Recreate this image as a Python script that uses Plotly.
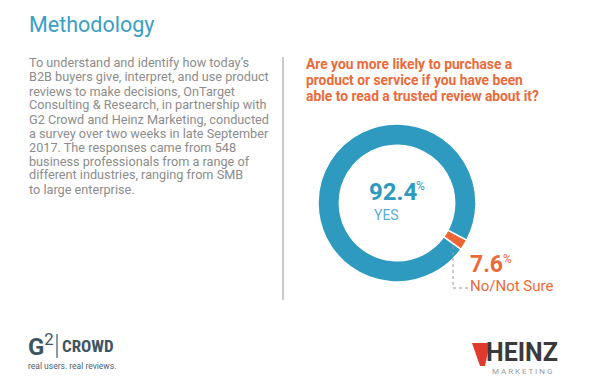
import plotly.graph_objects as go

W, H = 596, 388

# Data
categories = ["No/Not Sure", "YES"]
label_values = [7.6, 92.4]          # percentages as printed
arc_values = [2.2, 97.8]            # arc sizes as drawn in the picture
slice_colors = ["#ec6532", "#2f9ac0"]

body_lines = [
    "To understand and identify how today’s",
    "B2B buyers give, interpret, and use product",
    "reviews to make decisions, OnTarget",
    "Consulting & Research, in partnership with",
    "G2 Crowd and Heinz Marketing, conducted",
    "a survey over two weeks in late September",
    "2017. The responses came from 548",
    "business professionals from a range of",
    "different industries, ranging from SMB",
    "to large enterprise.",
]
question_lines = [
    "Are you more likely to purchase a",
    "product or service if you have been",
    "able to read a trusted review about it?",
]


def px(x):
    return x / W


def py(y):
    return 1 - y / H


FONT = "Roboto"
BLUE = "#2f9ac0"
ORANGE = "#ec6a3a"

fig = go.Figure()
fig.add_trace(go.Pie(
    labels=categories,
    values=arc_values,
    hole=0.73,
    sort=False,
    direction="clockwise",
    rotation=118,
    marker=dict(colors=slice_colors, line=dict(color="white", width=1.5)),
    textinfo="none",
    hoverinfo="label",
    showlegend=False,
    domain=dict(x=[px(318), px(476)], y=[py(282), py(124)]),
))

ann = []
ann.append(dict(text="Methodology", x=px(27), y=py(24), xanchor="left", yanchor="middle",
                font=dict(family=FONT, size=21.5, color="#3a9ec6"), showarrow=False))
for i, line in enumerate(body_lines):
    ann.append(dict(text=line, x=px(27), y=py(63 + i * 14), xanchor="left", yanchor="middle",
                    font=dict(family=FONT, size=12.7, color="#8c8c8c"), showarrow=False))
for i, line in enumerate(question_lines):
    ann.append(dict(text="<b>" + line + "</b>", x=px(304), y=py(64 + i * 16), xanchor="left",
                    yanchor="middle", font=dict(family=FONT, size=13.8, color=ORANGE), showarrow=False))

ann.append(dict(text=f"<b>{label_values[1]}</b>", x=px(367), y=py(192), xanchor="left",
                yanchor="middle", font=dict(family=FONT, size=24, color=BLUE), showarrow=False))
ann.append(dict(text="%", x=px(414), y=py(186), xanchor="left", yanchor="middle",
                font=dict(family=FONT, size=12, color=BLUE), showarrow=False))
ann.append(dict(text=categories[1], x=px(372), y=py(215), xanchor="left", yanchor="middle",
                font=dict(family=FONT, size=14, color="#5aaed0"), showarrow=False))
ann.append(dict(text=f"<b>{label_values[0]}</b>", x=px(468), y=py(264), xanchor="left",
                yanchor="middle", font=dict(family=FONT, size=23, color=ORANGE), showarrow=False))
ann.append(dict(text="%", x=px(501), y=py(259), xanchor="left", yanchor="middle",
                font=dict(family=FONT, size=12, color=ORANGE), showarrow=False))
ann.append(dict(text=categories[0], x=px(468), y=py(286), xanchor="left", yanchor="middle",
                font=dict(family=FONT, size=15, color=ORANGE), showarrow=False))

# Logos as text
ann.append(dict(text="<b>G</b><sup>2</sup>", x=px(26), y=py(345), xanchor="left", yanchor="middle",
                font=dict(family=FONT, size=24, color="#3e5563"), showarrow=False))
ann.append(dict(text="<b>CROWD</b>", x=px(60), y=py(346), xanchor="left", yanchor="middle",
                font=dict(family="Roboto Condensed, Roboto", size=17, color="#3e5563"), showarrow=False))
ann.append(dict(text="real users. real reviews.", x=px(26), y=py(366), xanchor="left", yanchor="middle",
                font=dict(family=FONT, size=8.5, color="#4d6270"), showarrow=False))
ann.append(dict(text="<b>HEINZ</b>", x=px(484), y=py(352), xanchor="left", yanchor="middle",
                font=dict(family=FONT, size=25, color="#3a3a3a"), showarrow=False))
ann.append(dict(text="M A R K E T I N G", x=px(490), y=py(371), xanchor="left", yanchor="middle",
                font=dict(family=FONT, size=8, color="#9a9a9a"), showarrow=False))

shapes = [
    dict(type="line", xref="paper", yref="paper", x0=px(283), x1=px(283), y0=py(57), y1=py(300),
         line=dict(color="#b8b8b8", width=1.5)),
    dict(type="line", xref="paper", yref="paper", x0=px(453), x1=px(453), y0=py(240), y1=py(288),
         line=dict(color="#9a9a9a", width=1, dash="dot")),
    dict(type="line", xref="paper", yref="paper", x0=px(453), x1=px(468), y0=py(288), y1=py(288),
         line=dict(color="#9a9a9a", width=1, dash="dot")),
    dict(type="line", xref="paper", yref="paper", x0=px(57), x1=px(57), y0=py(334), y1=py(358),
         line=dict(color="#3e5563", width=1.2)),
    # Heinz chevron mark
    dict(type="path", xref="paper", yref="paper",
         path=f"M {px(472)},{py(343)} L {px(490)},{py(343)} L {px(485)},{py(366)} L {px(480)},{py(366)} Z",
         fillcolor="#e03a2e", line=dict(width=0)),
]

fig.update_layout(
    width=W, height=H, autosize=False,
    margin=dict(l=0, r=0, t=0, b=0),
    paper_bgcolor="white", plot_bgcolor="white",
    annotations=ann, shapes=shapes,
)
fig.write_html("out.html", config={"displayModeBar": False},
               post_script="document.body.style.margin='0px';")
